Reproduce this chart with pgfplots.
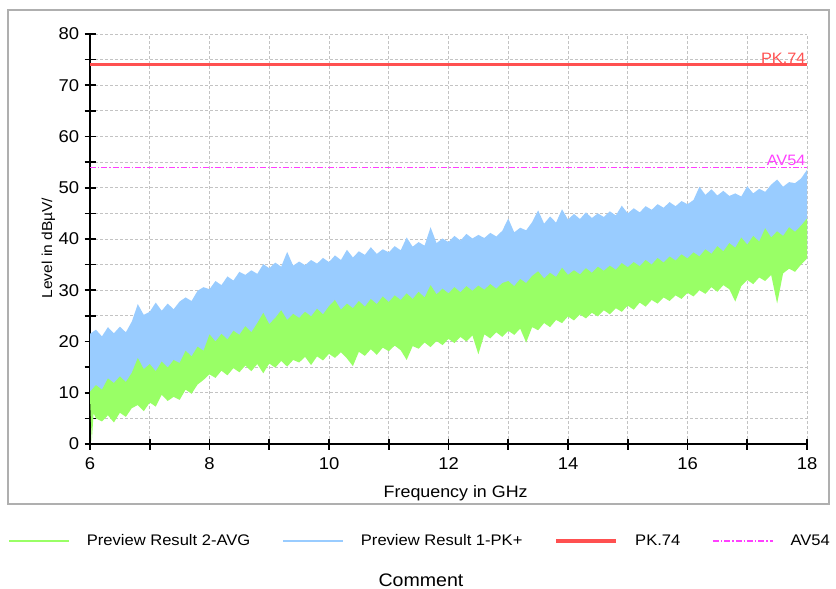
\documentclass[border=0pt]{standalone}
\usepackage{fontspec}
\setmainfont{Liberation Sans}[FakeStretch=1.08]
\usepackage{pgfplots}
\pgfplotsset{compat=1.18}
\usepgfplotslibrary{fillbetween}

\definecolor{pkblue}{RGB}{153,204,255}
\definecolor{avggreen}{RGB}{153,255,102}
\definecolor{limred}{RGB}{255,80,80}
\definecolor{limmag}{RGB}{255,64,255}
\definecolor{gridgray}{RGB}{195,195,195}
\definecolor{framegray}{RGB}{175,175,175}

% blue (PK+) band, upper edge
\pgfplotstableread{
f L
6.0 21.5
6.1 22.3
6.2 21.0
6.3 22.8
6.4 21.6
6.5 22.9
6.6 21.8
6.7 23.9
6.8 27.3
6.9 25.2
7.0 25.8
7.1 27.6
7.2 26.0
7.3 27.4
7.4 26.3
7.5 27.8
7.6 28.6
7.7 27.9
7.8 29.9
7.9 30.6
8.0 30.2
8.1 31.8
8.2 31.0
8.3 32.7
8.4 31.9
8.5 33.6
8.6 33.0
8.7 33.9
8.8 33.2
8.9 35.1
9.0 34.3
9.1 35.4
9.2 34.6
9.3 37.5
9.4 34.8
9.5 35.6
9.6 34.9
9.7 35.9
9.8 35.2
9.9 36.3
10.0 35.5
10.1 36.8
10.2 35.9
10.3 37.9
10.4 36.4
10.5 37.6
10.6 36.9
10.7 38.4
10.8 37.1
10.9 38.0
11.0 37.4
11.1 38.6
11.2 37.8
11.3 40.3
11.4 38.5
11.5 39.4
11.6 38.7
11.7 42.3
11.8 39.2
11.9 40.1
12.0 39.4
12.1 40.6
12.2 39.7
12.3 41.0
12.4 40.1
12.5 40.8
12.6 40.2
12.7 41.2
12.8 40.5
12.9 41.6
13.0 44.0
13.1 41.3
13.2 42.2
13.3 41.7
13.4 43.3
13.5 45.6
13.6 43.0
13.7 44.4
13.8 43.2
13.9 45.8
14.0 43.8
14.1 44.9
14.2 43.9
14.3 45.2
14.4 44.1
14.5 45.0
14.6 44.3
14.7 45.4
14.8 44.6
14.9 46.5
15.0 45.0
15.1 46.0
15.2 45.2
15.3 46.4
15.4 45.7
15.5 46.8
15.6 46.1
15.7 47.2
15.8 46.4
15.9 47.4
16.0 46.8
16.1 47.6
16.2 50.2
16.3 48.6
16.4 49.7
16.5 48.5
16.6 49.4
16.7 48.4
16.8 48.9
16.9 48.3
17.0 50.3
17.1 48.9
17.2 49.8
17.3 49.2
17.4 50.6
17.5 51.6
17.6 50.2
17.7 51.1
17.8 50.9
17.9 51.8
18.0 53.5
}\pkupper

% blue (PK+) band, lower edge (mostly under the green band)
\pgfplotstableread{
f L
6.0 10.0
6.5 9.0
7.0 11.0
7.5 12.0
8.0 16.5
8.5 18.0
9.0 19.0
9.5 19.5
10.0 21.0
10.5 21.5
11.0 22.0
11.5 22.5
12.0 23.5
12.5 24.5
13.0 25.0
13.5 26.0
14.0 28.0
14.5 28.5
15.0 30.0
15.5 31.0
16.0 32.5
16.5 34.0
17.0 35.0
17.5 36.5
18.0 38.5
}\pklower

% green (AVG) band, upper edge
\pgfplotstableread{
f L
6.0 10.2
6.1 11.5
6.2 10.6
6.3 12.8
6.4 11.9
6.5 13.2
6.6 12.1
6.7 13.9
6.8 16.8
6.9 14.6
7.0 15.6
7.1 14.2
7.2 16.1
7.3 14.9
7.4 16.4
7.5 15.8
7.6 18.2
7.7 17.1
7.8 19.0
7.9 18.2
8.0 21.4
8.1 20.0
8.2 21.5
8.3 20.4
8.4 22.1
8.5 21.3
8.6 23.0
8.7 21.8
8.8 23.6
8.9 25.6
9.0 23.4
9.1 24.6
9.2 26.1
9.3 24.2
9.4 25.4
9.5 24.6
9.6 25.8
9.7 24.9
9.8 26.4
9.9 25.3
10.0 26.9
10.1 28.1
10.2 26.2
10.3 27.4
10.4 26.5
10.5 27.9
10.6 26.8
10.7 28.3
10.8 27.3
10.9 28.8
11.0 27.7
11.1 29.0
11.2 28.1
11.3 29.4
11.4 28.3
11.5 29.7
11.6 28.6
11.7 31.0
11.8 29.2
11.9 30.3
12.0 29.4
12.1 30.6
12.2 29.6
12.3 30.8
12.4 29.9
12.5 30.9
12.6 30.1
12.7 31.2
12.8 30.3
12.9 31.4
13.0 31.8
13.1 30.8
13.2 32.2
13.3 31.4
13.4 32.8
13.5 33.7
13.6 32.3
13.7 33.4
13.8 32.6
13.9 34.4
14.0 33.0
14.1 33.9
14.2 33.1
14.3 34.3
14.4 33.4
14.5 34.6
14.6 33.8
14.7 34.8
14.8 34.0
14.9 35.3
15.0 34.5
15.1 35.5
15.2 34.7
15.3 35.9
15.4 35.0
15.5 36.3
15.6 35.4
15.7 36.6
15.8 35.8
15.9 37.0
16.0 36.2
16.1 37.4
16.2 36.6
16.3 38.0
16.4 37.1
16.5 38.6
16.6 37.6
16.7 39.2
16.8 38.3
16.9 40.3
17.0 38.9
17.1 40.6
17.2 39.5
17.3 42.1
17.4 40.3
17.5 41.5
17.6 40.6
17.7 42.3
17.8 41.4
17.9 42.6
18.0 44.0
}\avgupper

% green (AVG) band, lower edge
\pgfplotstableread{
f L
6.0 9.0
6.03 0.5
6.06 6.0
6.1 5.0
6.2 4.4
6.3 5.6
6.4 4.2
6.5 6.1
6.6 5.3
6.7 7.0
6.8 7.6
6.9 6.4
7.0 8.1
7.1 7.3
7.2 9.6
7.3 8.4
7.4 9.2
7.5 8.6
7.6 10.6
7.7 9.8
7.8 11.6
7.9 12.5
8.0 13.6
8.1 12.9
8.2 14.3
8.3 13.4
8.4 14.8
8.5 14.0
8.6 15.3
8.7 14.2
8.8 15.6
8.9 13.8
9.0 15.7
9.1 14.9
9.2 16.2
9.3 15.1
9.4 16.4
9.5 15.9
9.6 17.0
9.7 15.4
9.8 17.1
9.9 16.3
10.0 17.6
10.1 16.8
10.2 17.9
10.3 16.7
10.4 15.2
10.5 18.0
10.6 17.2
10.7 18.5
10.8 17.4
10.9 18.8
11.0 18.1
11.1 19.2
11.2 18.3
11.3 16.4
11.4 19.1
11.5 18.6
11.6 19.8
11.7 18.9
11.8 20.1
11.9 19.3
12.0 20.5
12.1 19.7
12.2 20.9
12.3 20.0
12.4 21.2
12.5 17.5
12.6 21.4
12.7 20.6
12.8 21.8
12.9 20.9
13.0 22.1
13.1 21.3
13.2 22.5
13.3 19.8
13.4 22.8
13.5 22.2
13.6 23.6
13.7 22.8
13.8 24.2
13.9 23.6
14.0 24.9
14.1 24.1
14.2 25.3
14.3 24.5
14.4 25.6
14.5 24.9
14.6 26.1
14.7 25.3
14.8 26.5
14.9 25.8
15.0 27.0
15.1 26.2
15.2 27.6
15.3 26.8
15.4 28.1
15.5 27.4
15.6 28.6
15.7 27.9
15.8 29.0
15.9 28.3
16.0 29.5
16.1 28.8
16.2 30.0
16.3 29.3
16.4 30.6
16.5 29.7
16.6 31.0
16.7 30.2
16.8 27.8
16.9 30.8
17.0 32.0
17.1 31.2
17.2 32.5
17.3 31.8
17.4 33.0
17.5 27.4
17.6 33.3
17.7 34.2
17.8 33.6
17.9 35.0
18.0 36.2
}\avglower

\begin{document}
\begin{tikzpicture}[font=\fontsize{11.5}{13}\selectfont]
% grey frame round the chart
\draw[framegray, line width=1.1pt] (6pt,-7.5pt) rectangle (621.75pt,-378pt);

\begin{axis}[
  at={(67.5pt,-333pt)}, anchor=south west,
  scale only axis, width=537.75pt, height=307.5pt,
  xmin=6, xmax=18, ymin=0, ymax=80,
  axis lines=left, axis line style={-, black, line width=1.2pt},
  xtick={6,7,...,18},
  xticklabels={6,,8,,10,,12,,14,,16,,18},
  ytick={0,5,...,80},
  yticklabels={0,,10,,20,,30,,40,,50,,60,,70,,80},
  tick align=center, major tick length=8.25pt,
  tick style={black, line width=1.2pt},
  tick label style={font=\fontsize{12.8}{15}\selectfont},
  xticklabel style={yshift=-2.5pt},
  yticklabel style={xshift=-0.5pt},
  grid=major,
  major grid style={gridgray, line width=0.7pt, dash pattern=on 2.25pt off 1.5pt},
  /pgf/number format/assume math mode=true,
  xlabel={Frequency in GHz},
  ylabel={Level in dBµV/},
  xlabel style={at={(axis description cs:0.51,-0.12)}, anchor=center,
    font=\fontsize{12.4}{14}\selectfont},
  ylabel style={at={(axis description cs:-0.058,0.478)}, anchor=center,
    font=\fontsize{10.8}{13}\selectfont},
  legend columns=4,
  legend style={at={(axis description cs:-0.1144,-0.2366)}, anchor=west,
    draw=none, fill=none, inner sep=0pt, column sep=0pt,
    font=\fontsize{11.5}{13}\selectfont,
    nodes={inner xsep=0pt},
    /tikz/every even column/.append style={column sep=24pt}},
  legend cell align=left,
  legend image code/.code={
    \draw[#1] (0pt,0pt) -- (45pt,0pt);
    \path (57.75pt,0pt);
  },
]
\addplot[name path=pku, draw=none, forget plot] table[x=f, y=L] {\pkupper};
\addplot[name path=pkl, draw=none, forget plot] table[x=f, y=L] {\pklower};
\addplot[pkblue, forget plot] fill between[of=pku and pkl];

\addplot[name path=avu, draw=none, forget plot] table[x=f, y=L] {\avgupper};
\addplot[name path=avl, draw=none, forget plot] table[x=f, y=L] {\avglower};
\addplot[avggreen, forget plot] fill between[of=avu and avl];

\addlegendimage{avggreen, line width=1.2pt}
\addlegendimage{pkblue, line width=1.2pt}
\addplot[limred, line width=2.3pt, legend image post style={line width=2.8pt}]
  coordinates {(6,74) (18,74)};
\addplot[limmag, line width=0.9pt, dash pattern=on 4.5pt off 1.5pt on 1pt off 1.5pt]
  coordinates {(6,54) (18,54)};

\node[limred, anchor=south east, inner sep=1pt, font=\fontsize{11.3}{13}\selectfont]
  at (axis cs:18,74) {PK.74};
\node[limmag, anchor=south east, inner sep=1pt, font=\fontsize{11.3}{13}\selectfont]
  at (axis cs:18,54) {AV54};

\legend{Preview Result 2-AVG, Preview Result 1-PK+, PK.74, AV54}
\end{axis}

\node[font=\fontsize{13.6}{16}\selectfont] at (315.75pt,-435pt) {Comment};
% page size
\pgfresetboundingbox
\useasboundingbox (0pt,0pt) rectangle (627pt,-441.75pt);
\end{tikzpicture}
\end{document}
